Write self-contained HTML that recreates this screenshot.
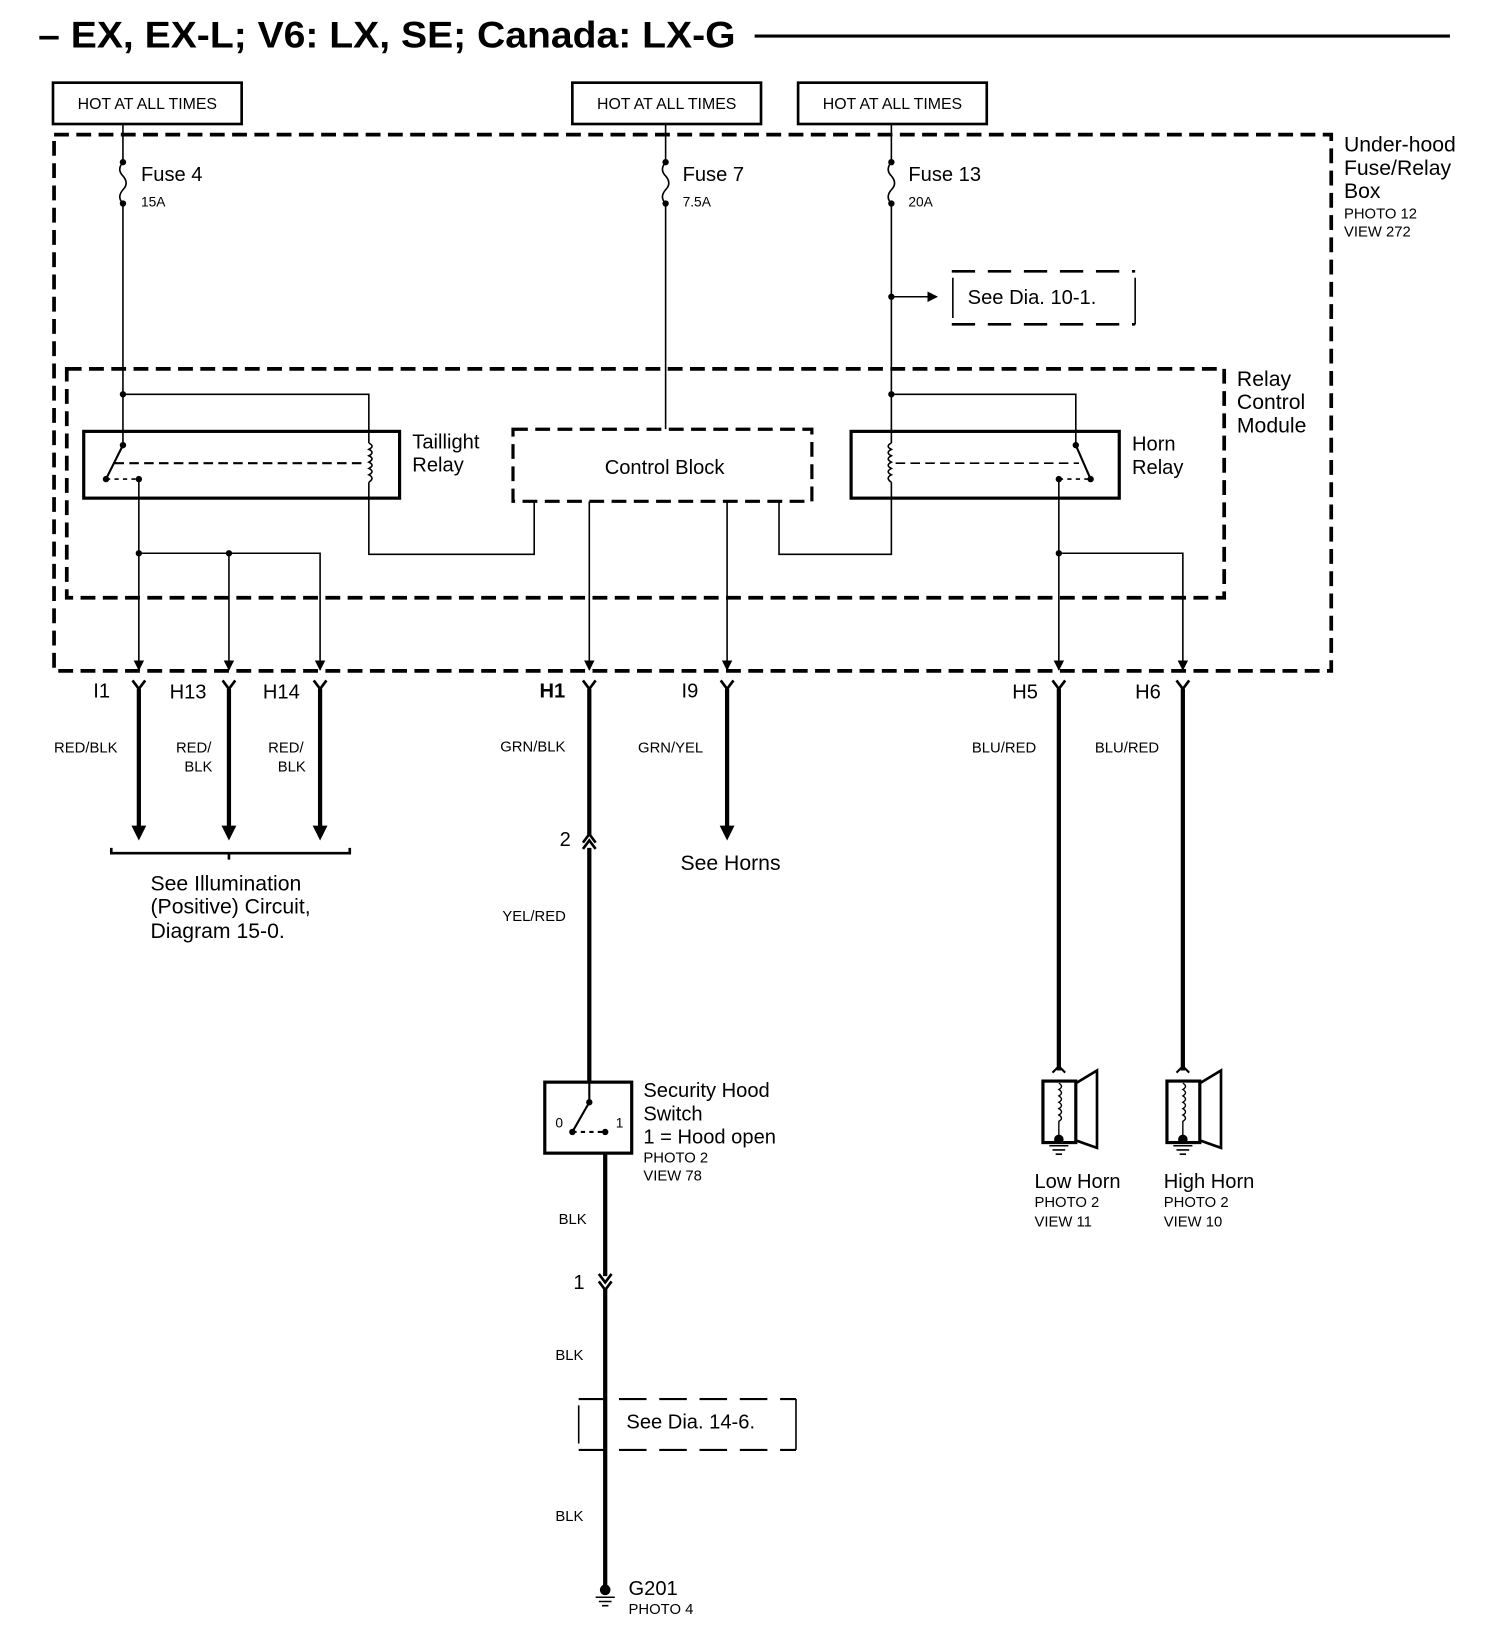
<!DOCTYPE html>
<html><head><meta charset="utf-8"><style>
html,body{margin:0;padding:0;background:#fff}
svg{display:block}
text{font-family:"Liberation Sans",Arial,sans-serif;fill:#000}
</style></head><body>
<svg width="1504" height="1646" viewBox="0 0 1419 1553" preserveAspectRatio="none" xmlns="http://www.w3.org/2000/svg">
<defs>
<marker id="ah" viewBox="0 0 10 10" refX="9" refY="5" markerWidth="10" markerHeight="10" markerUnits="userSpaceOnUse" orient="auto"><path d="M0,0 L10,5 L0,10 z"/></marker>
</defs>
<text x="36" y="45" font-size="35" font-weight="bold" textLength="658" lengthAdjust="spacingAndGlyphs">– EX, EX-L; V6: LX, SE; Canada: LX-G</text>
<line x1="712" y1="34" x2="1368" y2="34" stroke="#000" stroke-width="3"/>
<g fill="none" stroke="#000" stroke-width="2.5">
<rect x="50" y="78" width="178" height="39"/><rect x="540" y="78" width="178" height="39"/><rect x="753" y="78" width="178" height="39"/>
</g>
<g font-size="15" text-anchor="middle"><text x="139" y="103">HOT AT ALL TIMES</text><text x="629" y="103">HOT AT ALL TIMES</text><text x="842" y="103">HOT AT ALL TIMES</text></g>
<rect x="51" y="127" width="1205" height="506" fill="none" stroke="#000" stroke-width="3.5" stroke-dasharray="14,7"/>
<g font-size="20"><text x="1268" y="143">Under-hood</text><text x="1268" y="165">Fuse/Relay</text><text x="1268" y="187">Box</text></g>
<g font-size="14"><text x="1268" y="206">PHOTO 12</text><text x="1268" y="223">VIEW 272</text></g>
<rect x="63" y="348" width="1092" height="216" fill="none" stroke="#000" stroke-width="3.5" stroke-dasharray="14,7"/>
<g font-size="20"><text x="1167" y="364">Relay</text><text x="1167" y="386">Control</text><text x="1167" y="408">Module</text></g>
<g stroke="#000" stroke-width="1.5" fill="none">
<path d="M116,117 V153 q-6,7 0,13 q6,7 0,13 q-6,7 0,13 V420"/>
<path d="M628,117 V153 q-6,7 0,13 q6,7 0,13 q-6,7 0,13 V405"/>
<path d="M841,117 V153 q-6,7 0,13 q6,7 0,13 q-6,7 0,13 V418"/>
<path d="M841,455 V523 H735 V473"/>
<path d="M116,372 H348 V418"/><path d="M348,455 V523 H504 V473"/>
<path d="M841,372 H1015 V420"/>
<line x1="841" y1="280" x2="884" y2="280" marker-end="url(#ah)"/>
<path d="M556,473 V632" marker-end="url(#ah)"/><path d="M686,473 V632" marker-end="url(#ah)"/>
<path d="M131,452 V632" marker-end="url(#ah)"/><path d="M131,522 H302 V632" marker-end="url(#ah)"/><path d="M216,522 V632" marker-end="url(#ah)"/>
<path d="M999,452 V632" marker-end="url(#ah)"/><path d="M999,522 H1116 V632" marker-end="url(#ah)"/>
<path d="M348,418 q6,3 0,6 q6,3 0,6 q6,3 0,6 q6,3 0,6 q6,3 0,6 q6,3 0,7"/>
<path d="M841,418 q-6,3 0,6 q-6,3 0,6 q-6,3 0,6 q-6,3 0,6 q-6,3 0,6 q-6,3 0,7"/>
<line x1="116" y1="420" x2="100" y2="452" stroke-width="2"/>
<line x1="1015" y1="420" x2="1029" y2="452" stroke-width="2"/>
<line x1="108" y1="437" x2="345" y2="437" stroke-dasharray="9,5" stroke-width="2"/>
<line x1="845" y1="437" x2="1018" y2="437" stroke-dasharray="9,5"/>
<line x1="100" y1="452" x2="131" y2="452" stroke-dasharray="4,4"/>
<line x1="999" y1="452" x2="1029" y2="452" stroke-dasharray="4,4"/>
</g>
<g fill="#000">
<circle cx="116" cy="153" r="3"/><circle cx="116" cy="192" r="3"/><circle cx="628" cy="153" r="3"/><circle cx="628" cy="192" r="3"/><circle cx="841" cy="153" r="3"/><circle cx="841" cy="192" r="3"/>
<circle cx="841" cy="280" r="3"/><circle cx="116" cy="372" r="3"/><circle cx="841" cy="372" r="3"/>
<circle cx="116" cy="420" r="3"/><circle cx="100" cy="452" r="3"/><circle cx="131" cy="452" r="3"/>
<circle cx="1015" cy="420" r="3"/><circle cx="999" cy="452" r="3"/><circle cx="1029" cy="452" r="3"/>
<circle cx="131" cy="522" r="3"/><circle cx="216" cy="522" r="3"/><circle cx="999" cy="522" r="3"/>
</g>
<g font-size="19"><text x="133" y="171">Fuse 4</text><text x="644" y="171">Fuse 7</text><text x="857" y="171">Fuse 13</text></g>
<g font-size="13"><text x="133" y="195">15A</text><text x="644" y="195">7.5A</text><text x="857" y="195">20A</text></g>
<path d="M898,256 H1071 M898,306 H1071" stroke="#000" stroke-width="2.5" stroke-dasharray="22,12" fill="none"/>
<path d="M899,262 V300 M1071,262 V306" stroke="#000" stroke-width="1.5"/>
<text x="913" y="287" font-size="19">See Dia. 10-1.</text>
<rect x="79" y="407" width="298" height="63" fill="none" stroke="#000" stroke-width="3"/>
<rect x="803" y="407" width="253" height="63" fill="none" stroke="#000" stroke-width="3"/>
<rect x="484" y="405" width="282" height="68" fill="#fff" stroke="#000" stroke-width="3" stroke-dasharray="14,7"/>
<text x="627" y="447" font-size="19" text-anchor="middle">Control Block</text>
<g font-size="19"><text x="389" y="423">Taillight</text><text x="389" y="445">Relay</text><text x="1068" y="425">Horn</text><text x="1068" y="447">Relay</text></g>
<g stroke="#000" stroke-width="2.5" fill="none">
<path d="M125,642 L131,650 L137,642"/><path d="M210,642 L216,650 L222,642"/><path d="M296,642 L302,650 L308,642"/><path d="M550,642 L556,650 L562,642"/><path d="M680,642 L686,650 L692,642"/><path d="M993,642 L999,650 L1005,642"/><path d="M1110,642 L1116,650 L1122,642"/>
</g>
<g font-size="19"><text x="88" y="658">I1</text><text x="160" y="659">H13</text><text x="248" y="659">H14</text><text x="509" y="658" font-weight="bold">H1</text><text x="643" y="658">I9</text><text x="955" y="659">H5</text><text x="1071" y="659">H6</text></g>
<g stroke="#000" stroke-width="4" fill="none">
<path d="M131,650 V780"/><path d="M216,650 V780"/><path d="M302,650 V780"/><path d="M686,650 V780"/>
<path d="M556,650 V788"/><path d="M556,800 V1021"/>
<path d="M571,1088 V1204"/><path d="M571,1216 V1496"/>
<path d="M999,650 V1010"/><path d="M1116,650 V1010"/>
</g>
<g fill="#000"><path d="M124,779 L138,779 L131,793 z"/><path d="M209,779 L223,779 L216,793 z"/><path d="M295,779 L309,779 L302,793 z"/><path d="M679,779 L693,779 L686,793 z"/></g>
<path d="M550,795 L556,787 L562,795 M550,801 L556,793 L562,801" stroke="#000" stroke-width="2.5" fill="none"/>
<path d="M565,1202 L571,1210 L577,1202 M565,1209 L571,1217 L577,1209" stroke="#000" stroke-width="2.5" fill="none"/>
<g font-size="14"><text x="51" y="710">RED/BLK</text><text x="166" y="710">RED/</text><text x="174" y="728">BLK</text><text x="253" y="710">RED/</text><text x="262" y="728">BLK</text>
<text x="472" y="709">GRN/BLK</text><text x="602" y="710">GRN/YEL</text><text x="917" y="710">BLU/RED</text><text x="1033" y="710">BLU/RED</text>
<text x="474" y="869">YEL/RED</text><text x="527" y="1155">BLK</text><text x="524" y="1283">BLK</text><text x="524" y="1435">BLK</text></g>
<path d="M105,800 V805 H330 V800 M216,805 V811" stroke="#000" stroke-width="2.5" fill="none"/>
<g font-size="20"><text x="142" y="840">See Illumination</text><text x="142" y="862">(Positive) Circuit,</text><text x="142" y="885">Diagram 15-0.</text><text x="642" y="821">See Horns</text></g>
<text x="528" y="798" font-size="19">2</text><text x="541" y="1216" font-size="19">1</text>
<rect x="514" y="1021" width="82" height="67" fill="none" stroke="#000" stroke-width="3"/>
<g stroke="#000" stroke-width="2" fill="none"><line x1="556" y1="1040" x2="540" y2="1068"/><line x1="540" y1="1068" x2="571" y2="1068" stroke-dasharray="4,4"/><line x1="556" y1="1021" x2="556" y2="1040"/></g>
<g fill="#000"><circle cx="556" cy="1040" r="3"/><circle cx="540" cy="1068" r="3"/><circle cx="571" cy="1068" r="3"/></g>
<g font-size="13"><text x="524" y="1064">0</text><text x="581" y="1064">1</text></g>
<g font-size="19"><text x="607" y="1035">Security Hood</text><text x="607" y="1057">Switch</text><text x="607" y="1079">1 = Hood open</text></g>
<g font-size="14"><text x="607" y="1097">PHOTO 2</text><text x="607" y="1114">VIEW 78</text></g>
<path d="M546,1320 H751 M546,1368 H751" stroke="#000" stroke-width="2" stroke-dasharray="26,12" fill="none"/>
<path d="M546,1326 V1362 M751,1320 V1368" stroke="#000" stroke-width="1.5"/>
<text x="591" y="1348" font-size="19">See Dia. 14-6.</text>
<circle cx="571" cy="1500" r="5" fill="#000"/>
<path d="M562,1507 H580 M565,1511 H577 M568,1515 H574" stroke="#000" stroke-width="1.5"/>
<text x="593" y="1505" font-size="19">G201</text><text x="593" y="1523" font-size="14">PHOTO 4</text>
<g id="horn" stroke="#000" fill="none">
<path d="M993,1012 L999,1006 L1005,1012" stroke-width="2"/>
<rect x="984" y="1020" width="31" height="58" stroke-width="3"/>
<path d="M1015,1022 L1035,1010 V1083 L1015,1076" stroke-width="2.5"/>
<path d="M999,1022 q5,3 0,6 q5,3 0,6 q5,3 0,6 q5,3 0,6 q5,3 0,6 q5,3 0,6 V1074" stroke-width="1.3"/>
<path d="M990,1081 H1008 M993,1085 H1005 M996,1089 H1002" stroke-width="1.5"/>
</g>
<circle cx="999" cy="1075" r="4.5" fill="#000"/>
<use href="#horn" transform="translate(117,0)"/>
<circle cx="1116" cy="1075" r="4.5" fill="#000"/>
<g font-size="19"><text x="976" y="1121">Low Horn</text><text x="1098" y="1121">High Horn</text></g>
<g font-size="14"><text x="976" y="1139">PHOTO 2</text><text x="976" y="1157">VIEW 11</text><text x="1098" y="1139">PHOTO 2</text><text x="1098" y="1157">VIEW 10</text></g>
</svg>
</body></html>
